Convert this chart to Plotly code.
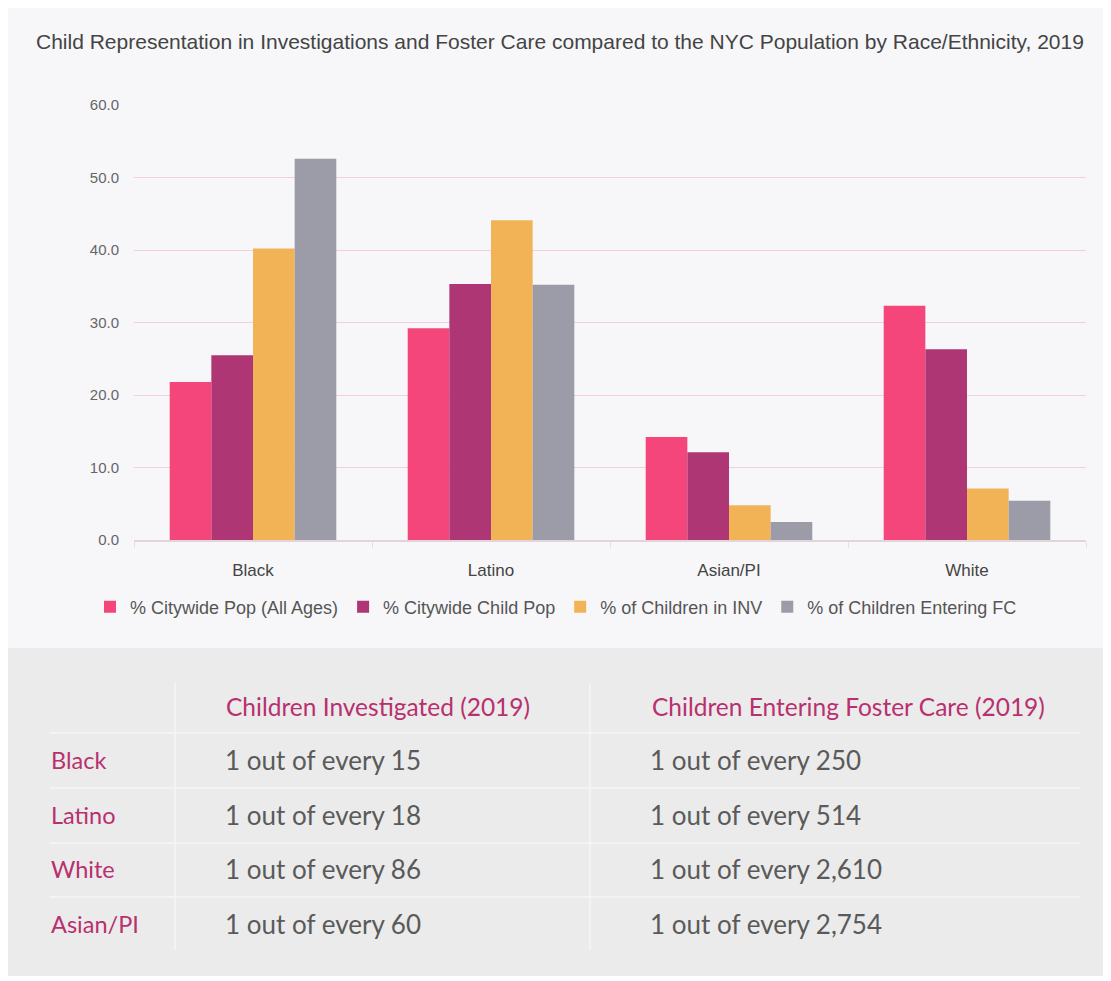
import plotly.graph_objects as go

# chart data (percent)
races = ["Black", "Latino", "Asian/PI", "White"]
series_names = [
    "% Citywide Pop (All Ages)",
    "% Citywide Child Pop",
    "% of Children in INV",
    "% of Children Entering FC",
]
pop_all_ages = [21.8, 29.2, 14.2, 32.3]
pop_children = [25.5, 35.3, 12.1, 26.3]
children_inv = [40.2, 44.1, 4.8, 7.1]
children_fc = [52.6, 35.2, 2.5, 5.4]

# table data
table_rows = ["Black", "Latino", "White", "Asian/PI"]
table_headers = ["Children Investigated (2019)", "Children Entering Foster Care (2019)"]
investigated = ["1 out of every 15", "1 out of every 18", "1 out of every 86", "1 out of every 60"]
entering_fc = ["1 out of every 250", "1 out of every 514", "1 out of every 2,610", "1 out of every 2,754"]

colors = ["#f4467b", "#ae3674", "#f2b356", "#9b9ca8"]

# the page body adds an 8px margin, so the figure is drawn 8px smaller/offset
OFF = 8
W, H = 1111 - OFF, 981 - OFF
L, R, T, B = 134 - OFF, 1086 - OFF, 105 - OFF, 540 - OFF  # plot area in figure pixels


def px(x):
    # x in page pixels -> paper coords
    return (x - OFF - L) / (R - L)


def py(y):
    return (B - (y - OFF)) / (B - T)


fig = go.Figure()
for name, vals, col in zip(series_names, [pop_all_ages, pop_children, children_inv, children_fc], colors):
    fig.add_trace(go.Bar(x=races, y=vals, name=name, marker=dict(color=col, line=dict(width=0))))

shapes = []
# table background + thin white bottom edge
shapes.append(dict(type="rect", xref="paper", yref="paper", x0=px(0), x1=px(1111), y0=py(648), y1=py(976),
                   fillcolor="#ebebeb", line=dict(width=0), layer="below"))
shapes.append(dict(type="rect", xref="paper", yref="paper", x0=px(0), x1=px(1111), y0=py(976), y1=py(990),
                   fillcolor="white", line=dict(width=0), layer="below"))
# table lines
for yl in [733, 788, 843, 897]:
    shapes.append(dict(type="line", xref="paper", yref="paper", x0=px(50), x1=px(1080), y0=py(yl), y1=py(yl),
                       line=dict(color="#f6f6f6", width=1.5)))
for xl in [175, 590]:
    shapes.append(dict(type="line", xref="paper", yref="paper", x0=px(xl), x1=px(xl), y0=py(683), y1=py(950),
                       line=dict(color="#f6f6f6", width=1.5)))

annotations = [
    dict(text="Child Representation in Investigations and Foster Care compared to the NYC Population by Race/Ethnicity, 2019",
         xref="paper", yref="paper", x=px(34), y=py(41), xanchor="left", yanchor="middle", showarrow=False,
         font=dict(family="Liberation Sans", size=21, color="#444444")),
]
table_font = "Lato"
pink = "#b8306f"
annotations.append(dict(text=table_headers[0], xref="paper", yref="paper", x=px(224), y=py(706),
                        xanchor="left", yanchor="middle", showarrow=False,
                        font=dict(family=table_font, size=24.5, color=pink)))
annotations.append(dict(text=table_headers[1], xref="paper", yref="paper", x=px(650), y=py(706),
                        xanchor="left", yanchor="middle", showarrow=False,
                        font=dict(family=table_font, size=24.5, color=pink)))
for i, (r, a, b) in enumerate(zip(table_rows, investigated, entering_fc)):
    yy = 760 + i * 54.7
    annotations.append(dict(text=r, xref="paper", yref="paper", x=px(49), y=py(yy), xanchor="left",
                            yanchor="middle", showarrow=False, font=dict(family=table_font, size=23.5, color=pink)))
    annotations.append(dict(text=a, xref="paper", yref="paper", x=px(223), y=py(yy), xanchor="left",
                            yanchor="middle", showarrow=False, font=dict(family=table_font, size=26, color="#5a5a5a")))
    annotations.append(dict(text=b, xref="paper", yref="paper", x=px(648), y=py(yy), xanchor="left",
                            yanchor="middle", showarrow=False, font=dict(family=table_font, size=26, color="#5a5a5a")))

fig.update_layout(
    width=W, height=H,
    margin=dict(l=L, r=W - R, t=T, b=H - B, pad=0),
    paper_bgcolor="#f7f7f9",
    plot_bgcolor="#f7f7f9",
    barmode="group",
    bargap=0.3,
    bargroupgap=0,
    font=dict(family="Liberation Sans", color="#555555"),
    showlegend=True,
    legend=dict(orientation="h", x=px(556), xanchor="center", y=py(607), yanchor="middle",
                font=dict(size=18, color="#555555"), bgcolor="rgba(0,0,0,0)",
                itemwidth=30, tracegroupgap=0),
    shapes=shapes,
    annotations=annotations,
)
fig.update_yaxes(range=[0, 60], dtick=10, tickformat=".1f", showgrid=True, gridcolor="#f3cfdb", gridwidth=1,
                 zeroline=False, showline=False, ticks="", ticklabelstandoff=14,
                 tickfont=dict(size=15, color="#666666"))
fig.update_xaxes(showline=True, linecolor="#e3d3da", linewidth=1.5, ticks="outside", tickson="boundaries",
                 ticklen=6, tickcolor="#e6e0e3", ticklabelstandoff=14,
                 tickfont=dict(size=17, color="#444444"))

fig.write_html("out.html")
